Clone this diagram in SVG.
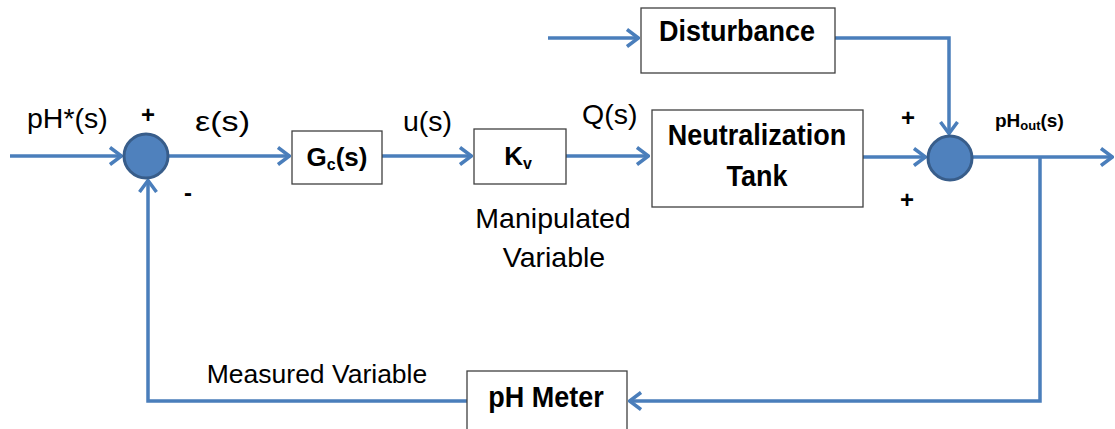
<svg xmlns="http://www.w3.org/2000/svg" width="1115" height="429" viewBox="0 0 1115 429">
<style>
.ln{fill:none;stroke:#4A7EBB;stroke-width:3.5;}
.box{fill:#fff;stroke:#404040;stroke-width:1.3;}
.sum{fill:#4F81BD;stroke:#385D8A;stroke-width:3;}
text{font-family:"Liberation Sans",Arial,sans-serif;fill:#000;}
.lbl{font-size:28.5px;}
.bt{font-size:27px;font-weight:bold;}
.sg{font-size:24px;font-weight:bold;}
</style>
<defs>
<marker id="ah" viewBox="0 0 14 20" refX="13" refY="10" markerWidth="14" markerHeight="20" markerUnits="userSpaceOnUse" orient="auto">
<path d="M1,1.5 L12.5,10 L1,18.5" fill="none" stroke="#4A7EBB" stroke-width="3.5"/>
</marker>
</defs>
<g id="connectors">
<path class="ln" d="M10,156 H122" marker-end="url(#ah)"/>
<path class="ln" d="M168,156 H290" marker-end="url(#ah)"/>
<path class="ln" d="M382,156 H472" marker-end="url(#ah)"/>
<path class="ln" d="M566,156 H649" marker-end="url(#ah)"/>
<path class="ln" d="M863,157 H926" marker-end="url(#ah)"/>
<path class="ln" d="M548,38 H639" marker-end="url(#ah)"/>
<path class="ln" d="M834,38 H949 V134" marker-end="url(#ah)"/>
<path class="ln" d="M972,157 H1113" marker-end="url(#ah)"/>
<path class="ln" d="M1040,157 V401 H629" marker-end="url(#ah)"/>
<path class="ln" d="M467,401 H148 V180" marker-end="url(#ah)"/>
</g>
<g id="sum1"><circle class="sum" cx="146" cy="156" r="22"/></g>
<g id="sum2"><circle class="sum" cx="950" cy="158" r="22"/></g>
<g id="gc"><rect class="box" x="292" y="131" width="90" height="53"/>
<text class="bt" x="337" y="166" text-anchor="middle" style="font-size:26px">G<tspan font-size="16" dy="4">c</tspan><tspan dy="-4">(s)</tspan></text></g>
<g id="kv"><rect class="box" x="474" y="129" width="92" height="55"/>
<text class="bt" x="518" y="165" text-anchor="middle" style="font-size:26px">K<tspan font-size="16" dy="4">v</tspan></text></g>
<g id="tank"><rect class="box" x="652" y="110" width="211" height="97"/>
<text class="bt" transform="translate(757,145) scale(1,1.1)" text-anchor="middle">Neutralization</text>
<text class="bt" transform="translate(757,186) scale(1,1.1)" text-anchor="middle">Tank</text></g>
<g id="disturbance"><rect class="box" x="641" y="8" width="194" height="65"/>
<text class="bt" transform="translate(737,41) scale(1,1.08)" text-anchor="middle">Disturbance</text></g>
<g id="phmeter"><rect class="box" x="467" y="371" width="160" height="70"/>
<text class="bt" transform="translate(546,407) scale(1,1.08)" text-anchor="middle">pH Meter</text></g>
<g id="labels">
<text class="lbl" x="27" y="128">pH*(s)</text>
<text class="lbl" x="195" y="131" textLength="55" lengthAdjust="spacingAndGlyphs">ε(s)</text>
<text class="lbl" x="403" y="131">u(s)</text>
<text class="lbl" x="582" y="124">Q(s)</text>
<text class="lbl" x="553" y="228" text-anchor="middle">Manipulated</text>
<text class="lbl" x="554" y="267" text-anchor="middle">Variable</text>
<text class="lbl" x="317" y="383" text-anchor="middle" style="font-size:26.5px">Measured Variable</text>
<text font-size="19" font-weight="bold" x="995" y="127">pH<tspan font-size="13" dy="3">out</tspan><tspan dy="-3">(s)</tspan></text>
<text class="sg" x="148" y="123" text-anchor="middle">+</text>
<text class="sg" x="188" y="201" text-anchor="middle">-</text>
<text class="sg" x="908" y="126" text-anchor="middle">+</text>
<text class="sg" x="907" y="208" text-anchor="middle">+</text>
</g>
</svg>
